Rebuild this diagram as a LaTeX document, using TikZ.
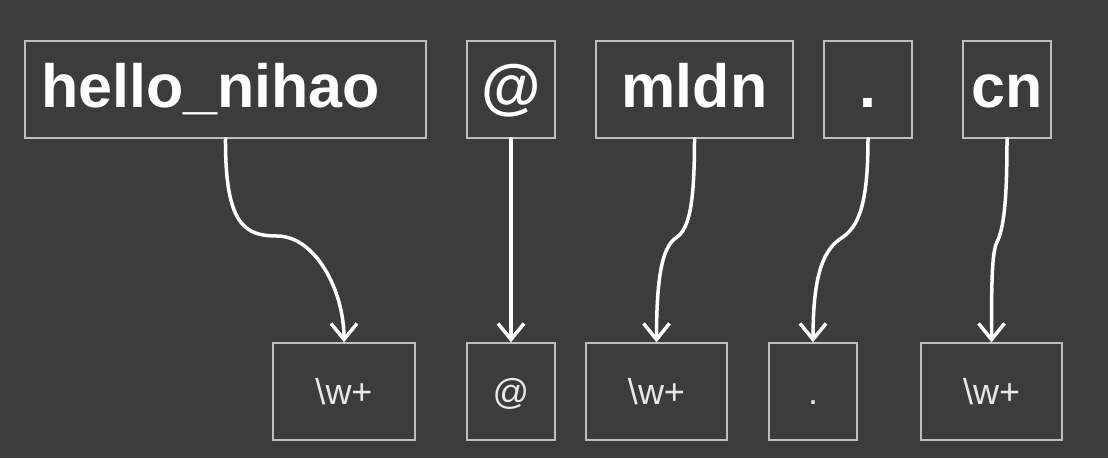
\documentclass[tikz,border=0pt]{standalone}
\usepackage{fontspec}
\setmainfont{Liberation Sans}
\usetikzlibrary{arrows.meta}
\definecolor{bg}{HTML}{3C3C3C}
\definecolor{edgec}{HTML}{BEBEBE}
\definecolor{smalltext}{HTML}{E8E8E8}
\begin{document}
\begin{tikzpicture}[x=1pt,y=-1pt,
  tbox/.style={draw=edgec, line width=1.5pt, minimum height=97pt, inner sep=0pt,
    text=white, font=\fontsize{61}{61}\selectfont\bfseries, text height=44pt, text depth=9pt},
  bbox/.style={draw=edgec, line width=1.5pt, minimum height=97pt, inner sep=0pt,
    text=smalltext, font=\fontsize{36}{36}\selectfont, text height=26pt, text depth=0pt},
  link/.style={draw=white, line width=3.5pt, line cap=round,
    -{Straight Barb[length=16pt,width=26pt]}}
]
\fill[bg] (0,0) rectangle (1108,458);
\useasboundingbox (0,0) rectangle (1108,458);

% top row
\node[tbox, inner xsep=16pt, text width=369pt, align=left] (h) at (225.5,89.5) {hello\_nihao};
\node[tbox, minimum width=88pt] (at) at (511,89.5) {@};
\node[tbox, minimum width=197pt] (m) at (694.5,89.5) {mldn};
\node[tbox, minimum width=88pt] (dt) at (868,89.5) {.};
\node[tbox, minimum width=88pt] (c) at (1007,89.5) {cn};

% bottom row
\node[bbox, minimum width=142pt] (w1) at (344,391.5) {\textbackslash w+};
\node[bbox, minimum width=88pt] (a2) at (511,391.5) {@};
\node[bbox, minimum width=141pt] (w2) at (656.5,391.5) {\textbackslash w+};
\node[bbox, minimum width=88pt] (d2) at (813,391.5) {.};
\node[bbox, minimum width=141pt] (w3) at (991.5,391.5) {\textbackslash w+};

% connectors
\draw[link] (h.south) .. controls (225,225) and (245,236) .. (277,236)
  .. controls (315,236) and (344,290) .. (w1.north);
\draw[link] (at.south) -- (a2.north);
\draw[link] (m.south) .. controls (694.5,200) and (690,228) .. (677,237)
  .. controls (665,245) and (656.5,265) .. (w2.north);
\draw[link] (dt.south) .. controls (868,200) and (860,225) .. (843,237)
  .. controls (825,248) and (813,270) .. (d2.north);
\draw[link] (c.south) .. controls (1007,200) and (1004,228) .. (997,242)
  .. controls (992,252) and (991.5,280) .. (w3.north);
\end{tikzpicture}
\end{document}
